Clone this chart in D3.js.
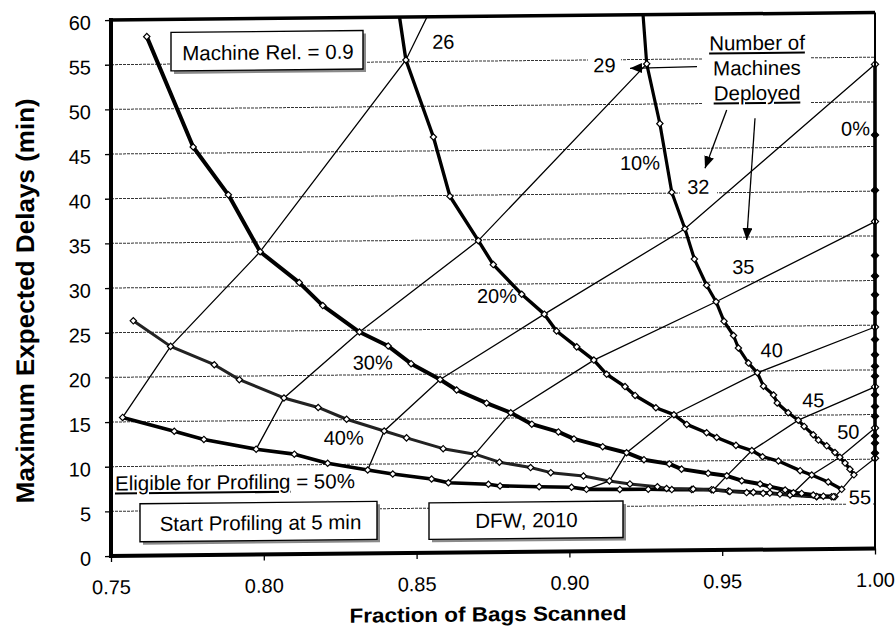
<!DOCTYPE html>
<html><head><meta charset="utf-8">
<script src="https://cdn.jsdelivr.net/npm/d3@7"></script>
<style>
body{margin:0;background:#fff}
svg{display:block}
text{font-family:"Liberation Sans",Arial,Helvetica,sans-serif;fill:#000}
</style>
</head><body>
<svg id="c" width="896" height="630"></svg>
<script>
// ---------- data (fraction of bags scanned, max expected delay in min) ----------
const xTicks = [0.75, 0.80, 0.85, 0.90, 0.95, 1.00];
const yTicks = [0, 5, 10, 15, 20, 25, 30, 35, 40, 45, 50, 55, 60];

const eligibilityLabels = ["0%", "10%", "20%", "30%", "40%"];
const machineLabels = ["26", "29", "32", "35", "40", "45", "50", "55"];

// Eligible for profiling = 0%  (all bags scanned, fraction 1.00)
const delays0 = [54.2, 46.3, 40.1, 36.6, 32.8, 30.5, 28.4, 26.4, 24.8, 23.4, 21.7, 20.4, 19.3, 18.1, 17.2, 15.9, 14.8, 13.5, 12.6, 11.8, 10.7, 10.1];

const curve10 = [[0.9239,60.9],[0.9253,54.5],[0.9296,47.8],[0.9335,40.1],[0.9378,36.0],[0.9409,32.6],[0.9449,29.65],[0.9480,27.8],[0.9506,25.6],[0.9537,24.0],[0.9553,22.6],[0.9586,20.9],[0.9615,19.8],[0.9635,18.3],[0.9668,17.3],[0.9680,16.4],[0.9716,15.3],[0.9749,14.45],[0.9768,13.75],[0.9798,12.8],[0.9815,12.2],[0.9842,11.55],[0.9869,10.8],[0.9885,10.25],[0.9902,9.6],[0.9918,8.9],[0.9931,8.27]];

const curve20 = [[0.8439,61.2],[0.8465,55.2],[0.8555,46.55],[0.8609,39.9],[0.8702,34.9],[0.8751,32.2],[0.8844,28.85],[0.8918,26.6],[0.8958,24.7],[0.9024,22.9],[0.9080,21.4],[0.9122,19.8],[0.9182,18.4],[0.9215,17.4],[0.9283,16.0],[0.9342,15.2],[0.9384,14.1],[0.9449,13.15],[0.9482,12.6],[0.9545,11.7],[0.9597,11.1],[0.9632,10.4],[0.9684,9.9],[0.9755,8.8],[0.9793,8.3],[0.9847,7.5],[0.9891,6.66]];

const curve30 = [[0.7617,58.1],[0.7769,45.7],[0.7884,40.3],[0.7988,33.9],[0.8116,30.4],[0.8193,27.8],[0.8313,24.8],[0.8407,23.2],[0.8482,21.2],[0.8577,19.4],[0.8631,18.2],[0.8729,16.7],[0.8808,15.6],[0.8877,14.3],[0.8964,13.4],[0.9015,12.6],[0.9109,11.7],[0.9187,11.0],[0.9244,10.2],[0.9327,9.7],[0.9367,9.1],[0.9454,8.6],[0.9515,8.3],[0.9564,7.74],[0.9624,7.35],[0.9656,7.04],[0.9706,6.65],[0.9733,6.34],[0.9760,6.25],[0.9798,6.06],[0.9831,5.92],[0.9864,5.85]];

const curve40 = [[0.7573,26.3],[0.7695,23.4],[0.7838,21.3],[0.7920,19.6],[0.8066,17.5],[0.8178,16.4],[0.8271,15.05],[0.8394,13.7],[0.8467,12.9],[0.8587,11.65],[0.8691,11.0],[0.8771,10.08],[0.8873,9.44],[0.8939,8.85],[0.9046,8.44],[0.9131,7.86],[0.9198,7.5],[0.9288,7.16],[0.9318,6.95],[0.9405,6.85],[0.9471,6.73],[0.9525,6.55],[0.9580,6.4],[0.9634,6.3],[0.9689,6.2],[0.9809,5.9],[0.9858,5.85]];

const curve50 = [[0.7538,15.5],[0.7707,13.9],[0.7804,12.95],[0.7975,11.8],[0.8100,11.2],[0.8209,10.15],[0.8340,9.35],[0.8422,8.87],[0.8549,8.27],[0.8604,7.83],[0.8735,7.62],[0.8773,7.42],[0.8901,7.29],[0.9007,7.19],[0.9056,6.94],[0.9165,6.9],[0.9258,6.88],[0.9335,6.82],[0.9400,6.8],[0.9465,6.77],[0.9520,6.6],[0.9602,6.42],[0.9656,6.32],[0.9722,6.09],[0.9809,5.87],[0.9869,5.85]];

// Number of machines deployed: iso-lines through the curves
const machines26 = [[0.7538,15.5],[0.7695,23.4],[0.7988,33.9],[0.8465,55.2],[0.8563,62.0]];
const machines29 = [[0.7975,11.8],[0.8066,17.5],[0.8313,24.8],[0.8702,34.9],[0.9253,54.5]];
const machines32 = [[0.8340,9.35],[0.8394,13.7],[0.8577,19.4],[0.8918,26.6],[0.9378,36.0],[1.0,54.2]];
const machines35 = [[0.8604,7.83],[0.8691,11.0],[0.8808,15.6],[0.9080,21.4],[0.9480,27.8],[1.0,36.6]];
const machines40 = [[0.9056,6.94],[0.9131,7.86],[0.9187,11.0],[0.9342,15.2],[0.9615,19.8],[1.0,24.8]];
const machines45 = [[0.9471,6.73],[0.9515,8.3],[0.9597,11.1],[0.9749,14.45],[1.0,18.1]];
const machines50 = [[0.9733,6.34],[0.9793,8.3],[0.9885,10.25],[1.0,13.5]];
const machines55 = [[0.9869,5.85],[0.9891,6.66],[0.9931,8.27],[1.0,10.1]];

// ---------- drawing ----------
const svg = d3.select("#c");
svg.append("rect").attr("width", 896).attr("height", 630).attr("fill", "#fff");

const x = d3.scaleLinear().domain([0.75, 1.0]).range([111, 875]);
const y = d3.scaleLinear().domain([0, 60]).range([556, 20]);

const defs = svg.append("defs");
defs.append("clipPath").attr("id", "plotclip").append("rect")
  .attr("x", x(0.75)).attr("y", y(60)).attr("width", x(1.0) - x(0.75) + 15).attr("height", y(0) - y(60));
defs.append("marker").attr("id", "arr").attr("viewBox", "0 0 12 10").attr("refX", 12).attr("refY", 5)
  .attr("markerWidth", 12).attr("markerHeight", 10).attr("markerUnits", "userSpaceOnUse").attr("orient", "auto")
  .append("path").attr("d", "M0,0 L12,5 L0,10 Z").attr("fill", "#000");

// the scanned original is slightly skewed
const g = svg.append("g").attr("transform", "translate(0,1.085) skewY(-0.56)");

// gridlines
g.append("g").selectAll("line").data(yTicks.filter(v => v > 0 && v < 60)).join("line")
  .attr("x1", x(0.75)).attr("x2", x(1.0)).attr("y1", d => y(d)).attr("y2", d => y(d))
  .attr("stroke", "#333").attr("stroke-width", 1).attr("stroke-dasharray", "3,1");

// axes
const yAxis = g.append("g").attr("transform", `translate(${x(0.75)},0)`)
  .call(d3.axisLeft(y).tickValues(yTicks).tickSize(6).tickPadding(14).tickFormat(d3.format("d")));
yAxis.select(".domain").remove();
yAxis.selectAll("line").attr("stroke", "#000").attr("stroke-width", 1.3);
yAxis.selectAll("text").attr("font-size", 20).attr("dy", "0.45em").style("font-family", '"Liberation Sans",Arial,sans-serif');

const xAxis = g.append("g").attr("transform", `translate(0,${y(0)})`)
  .call(d3.axisBottom(x).tickValues(xTicks).tickSize(6).tickPadding(18).tickFormat(d3.format(".2f")));
xAxis.select(".domain").remove();
xAxis.selectAll("line").attr("stroke", "#000").attr("stroke-width", 1.3);
xAxis.selectAll("text").attr("font-size", 20).style("font-family", '"Liberation Sans",Arial,sans-serif');

// axis titles
g.append("text").attr("transform", "translate(33.5,300) rotate(-90)").attr("text-anchor", "middle")
  .attr("font-size", 25.5).attr("font-weight", "bold").attr("textLength", 405).attr("lengthAdjust", "spacingAndGlyphs")
  .text("Maximum Expected Delays (min)");
g.append("text").attr("x", 488).attr("y", 625).attr("text-anchor", "middle")
  .attr("font-size", 20.5).attr("font-weight", "bold").attr("textLength", 277).attr("lengthAdjust", "spacingAndGlyphs")
  .text("Fraction of Bags Scanned");

// boxes
function box(x0, y0, x1, y1) {
  g.append("rect").attr("x", x0 + 3).attr("y", y0 + 3).attr("width", x1 - x0).attr("height", y1 - y0).attr("fill", "#8a8a8a");
  g.append("rect").attr("x", x0).attr("y", y0).attr("width", x1 - x0).attr("height", y1 - y0)
    .attr("fill", "#fff").attr("stroke", "#000").attr("stroke-width", 1.4);
}
box(171, 33, 363, 71.5);
g.append("text").attr("x", 268).attr("y", 61).attr("text-anchor", "middle").attr("font-size", 20.5).text("Machine Rel. = 0.9");
box(140, 504, 377, 542);
g.append("text").attr("x", 260.5).attr("y", 531.5).attr("text-anchor", "middle").attr("font-size", 20.5).text("Start Profiling at 5 min");
box(429, 506, 623, 542.5);
g.append("text").attr("x", 526.5).attr("y", 531.5).attr("text-anchor", "middle").attr("font-size", 20.5).text("DFW, 2010");

// white backgrounds behind some labels
[[702, 34, 108, 82], [588, 59, 33, 21], [680, 183, 37, 19], [846, 497, 27, 17]].forEach(r =>
  g.append("rect").attr("x", r[0]).attr("y", r[1]).attr("width", r[2]).attr("height", r[3]).attr("fill", "#fff"));

// plot content
const plot = g.append("g").attr("clip-path", "url(#plotclip)");
const line = d3.line().x(d => x(d[0])).y(d => y(d[1]));

const machineLines = [machines26, machines29, machines32, machines35, machines40, machines45, machines50, machines55];
plot.append("g").selectAll("path").data(machineLines).join("path")
  .attr("d", line).attr("fill", "none").attr("stroke", "#000").attr("stroke-width", 1.3);

const curve0 = delays0.map(d => [1.0, d]);
const curves = [
  {pts: curve50, w: 3.6, c: "#000"},
  {pts: curve40, w: 3.0, c: "#222"},
  {pts: curve30, w: 4.0, c: "#000"},
  {pts: curve20, w: 3.4, c: "#000"},
  {pts: curve10, w: 3.2, c: "#000"},
  {pts: curve0, w: 3.6, c: "#000"}
];
curves.forEach(cv => {
  plot.append("path").datum(cv.pts).attr("d", line).attr("fill", "none")
    .attr("stroke", cv.c).attr("stroke-width", cv.w).attr("stroke-linejoin", "round");
});
const sq = d3.symbol(d3.symbolSquare, 20);
[curve50, curve40, curve30, curve20, curve10].forEach(pts => {
  plot.append("g").selectAll("path").data(pts).join("path").attr("d", sq)
    .attr("transform", d => `translate(${x(d[0])},${y(d[1])}) rotate(45)`)
    .attr("fill", "#fff").attr("stroke", "#000").attr("stroke-width", 1.2);
});
const ends0 = new Set([54.2, 36.6, 24.8, 18.1, 13.5, 10.1]);
plot.append("g").selectAll("path").data(curve0).join("path").attr("d", d3.symbol(d3.symbolSquare, 26))
  .attr("transform", d => `translate(${x(d[0])},${y(d[1])}) rotate(45)`)
  .attr("fill", d => ends0.has(d[1]) ? "#fff" : "#000").attr("stroke", "#000").attr("stroke-width", 1.2);

// plot frame
g.append("line").attr("x1", x(0.75)).attr("x2", x(0.75)).attr("y1", y(60) - 2).attr("y2", y(0) + 2).attr("stroke", "#000").attr("stroke-width", 4);
g.append("line").attr("x1", x(0.75) - 2).attr("x2", x(1.0) + 1).attr("y1", y(0)).attr("y2", y(0)).attr("stroke", "#000").attr("stroke-width", 4);
g.append("line").attr("x1", x(0.75) - 2).attr("x2", x(1.0)).attr("y1", y(60)).attr("y2", y(60)).attr("stroke", "#000").attr("stroke-width", 3.5);
g.append("line").attr("x1", x(1.0)).attr("x2", x(1.0)).attr("y1", y(60)).attr("y2", y(0)).attr("stroke", "#000").attr("stroke-width", 2);

// curve labels
const lab = (t, xx, yy, anchor) => g.append("text").attr("x", xx).attr("y", yy)
  .attr("text-anchor", anchor || "middle").attr("font-size", 20).text(t);
lab(eligibilityLabels[0], 870, 142.8, "end");
lab(eligibilityLabels[1], 640, 175);
lab(eligibilityLabels[2], 497, 306.7);
lab(eligibilityLabels[3], 372.7, 372);
lab(eligibilityLabels[4], 343.7, 447);
const mPos = [[443.3, 52], [604.5, 77], [698.3, 199.6], [743.3, 280], [771.7, 363.7], [813.3, 414], [848.3, 446], [860, 511.5]];
machineLabels.forEach((t, i) => lab(t, mPos[i][0], mPos[i][1]));

// Eligible for profiling
const el = g.append("text").attr("x", 115).attr("y", 490.5).attr("font-size", 20.5);
el.append("tspan").attr("text-decoration", "underline").text("Eligible for Profiling");
el.append("tspan").text(" = 50%");

// Number of machines deployed
g.append("text").attr("x", 757).attr("y", 56.3).attr("text-anchor", "middle").attr("font-size", 20.5)
  .attr("text-decoration", "underline").text("Number of");
g.append("text").attr("x", 757).attr("y", 81.3).attr("text-anchor", "middle").attr("font-size", 20.5).text("Machines");
g.append("text").attr("x", 757).attr("y", 106.3).attr("text-anchor", "middle").attr("font-size", 20.5)
  .attr("text-decoration", "underline").text("Deployed");

// arrows
[[697, 72.4, 630, 73.4], [726.7, 116, 705, 174], [755, 124.6, 746.7, 246.2]].forEach(a =>
  g.append("line").attr("x1", a[0]).attr("y1", a[1]).attr("x2", a[2]).attr("y2", a[3])
    .attr("stroke", "#000").attr("stroke-width", 1.3).attr("marker-end", "url(#arr)"));
</script>
</body></html>
